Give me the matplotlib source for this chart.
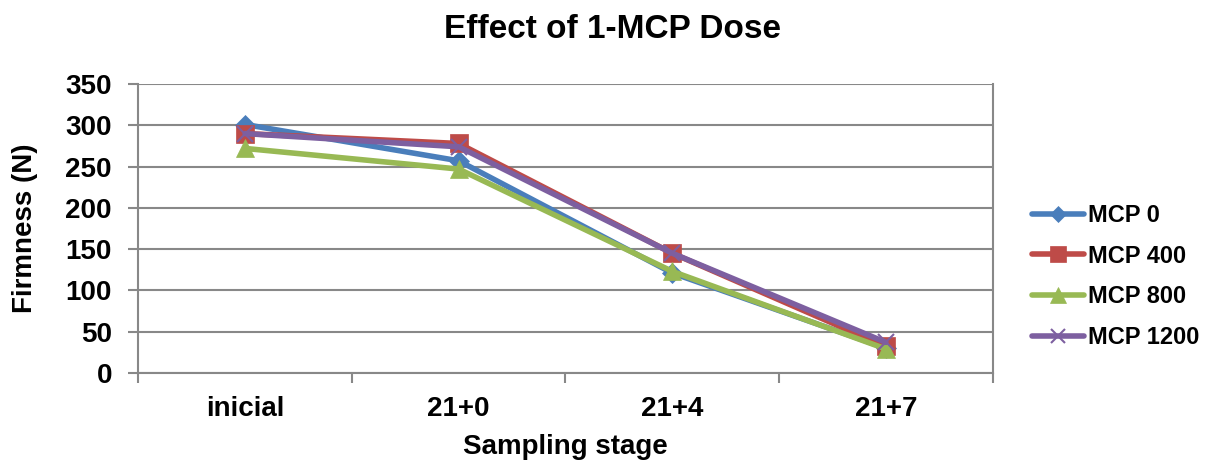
import matplotlib.pyplot as plt
import numpy as np

plt.rcParams['font.family'] = ['Liberation Sans', 'DejaVu Sans']
plt.rcParams['font.weight'] = 'bold'

# Data
stages = ['inicial', '21+0', '21+4', '21+7']
mcp_0 = [301, 257, 121, 30]
mcp_400 = [290, 278, 145, 32]
mcp_800 = [272, 247, 123, 29]
mcp_1200 = [290, 274, 145, 37]

series = [
    ('MCP 0', mcp_0, '#4a7ebb', 'D', 10),
    ('MCP 400', mcp_400, '#be4b48', 's', 13),
    ('MCP 800', mcp_800, '#98b954', '^', 13),
    ('MCP 1200', mcp_1200, '#7d5fa0', 'x', 12),
]

fig = plt.figure(figsize=(12.24, 4.75), dpi=100)
ax = fig.add_axes([0.113, 0.215, 0.698, 0.608])

x = np.arange(len(stages))
for label, vals, color, marker, ms in series:
    ax.plot(x, vals, color=color, linewidth=4, marker=marker, markersize=ms,
            markeredgewidth=1.5 if marker == 'x' else 0.5,
            markeredgecolor=color, label=label, solid_capstyle='round')

ax.set_xlim(-0.5, len(stages) - 0.5)
ax.set_ylim(0, 350)
ax.set_yticks(range(0, 351, 50))
ax.set_xticks(x)
ax.set_xticklabels(stages)
ax.set_xticks(np.arange(-0.5, len(stages), 1), minor=True)
ax.tick_params(axis='x', which='major', length=0, pad=17, labelsize=20)
ax.tick_params(axis='x', which='minor', length=7, width=1.5, color='#888888')
ax.tick_params(axis='y', length=7, width=1.5, color='#888888', labelsize=20, pad=12)

ax.yaxis.grid(True, color='#888888', linewidth=1.5)
ax.set_axisbelow(True)
for side in ['left', 'right', 'bottom']:
    ax.spines[side].set_color('#888888')
    ax.spines[side].set_linewidth(1.5)
ax.spines['top'].set_visible(False)

ax.set_xlabel('Sampling stage', fontsize=20, fontweight='bold', labelpad=8)
ax.set_ylabel('Firmness (N)', fontsize=20, fontweight='bold', labelpad=20)
fig.suptitle('Effect of 1-MCP Dose', fontsize=24, fontweight='bold', x=0.5, y=0.937, va='center')

leg = fig.legend(loc='center left', bbox_to_anchor=(0.843, 0.418), frameon=False,
                 fontsize=17, handlelength=2.2, labelspacing=0.75, handletextpad=0.2,
                 borderpad=0, borderaxespad=0, markerscale=0.85)

fig.savefig('out.png', dpi=100)
